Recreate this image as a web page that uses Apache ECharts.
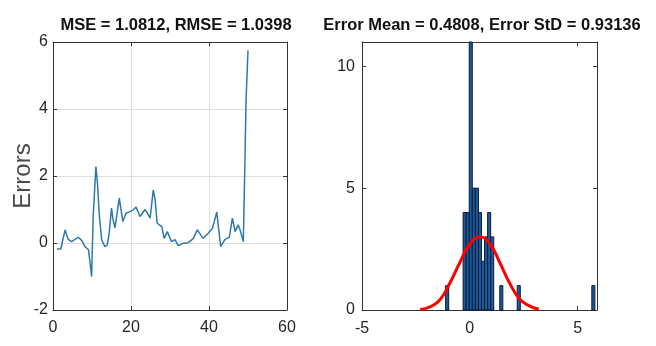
<!DOCTYPE html>
<html>
<head>
<meta charset="utf-8">
<script src="https://cdn.jsdelivr.net/npm/echarts@6/dist/echarts.min.js"></script>
<style>
html,body{margin:0;padding:0;background:#fff;}
#c{width:656px;height:346px;}
</style>
</head>
<body>
<div id="c"></div>
<script>
// Left panel: prediction errors vs sample index
const errX = [1,2,3.1,3.9,4.8,5.6,6.5,7.4,8.2,9.1,9.5,9.9,10.3,11,11.4,11.9,12.5,13.3,13.9,14.4,15,15.4,15.9,17,17.9,18.7,19.6,20.6,21.3,22.3,23.6,24.2,24.9,25.7,26.2,26.7,27.9,28.5,29.3,30.4,31.3,32.1,33.4,34.7,36,37,38.5,39.8,40.9,42,42.4,43,44.1,45.2,46,46.7,47.5,48.1,48.8,49.2,49.5,50];
const errY = [-0.18,-0.18,0.39,0.11,0.04,0.11,0.17,0.07,-0.11,-0.2,-0.6,-1.0,0.79,2.28,1.78,0.79,0.09,-0.11,-0.06,0.29,1.04,0.7,0.45,1.34,0.64,0.89,0.93,0.99,1.07,0.79,1.0,0.89,0.74,1.58,1.28,0.59,0.49,0.14,0.34,0.04,0.1,-0.08,-0.01,0.01,0.14,0.39,0.14,0.29,0.44,0.93,0.49,-0.11,0.11,0.17,0.74,0.34,0.54,0.34,0.04,2.39,4.27,5.75];

// Right panel: histogram of errors
const binWidth = 0.142;
const binLeft  = [-1.12,-0.31,-0.168,-0.026,0.116,0.258,0.40,0.542,0.684,0.826,0.968,1.39,2.20,5.66];
const binCount = [1,4,4,11,5,5,4,2,3,4,3,1,1,1];

// Right panel: fitted normal curve
const fitX = [-2.3,-1.85,-1.39,-0.93,-0.46,0,0.48,0.93,1.39,1.85,2.31,2.78,3.2];
const fitY = [0.02,0.13,0.41,1.1,1.95,2.7,3.0,2.72,1.95,1.1,0.45,0.16,0.04];

const leftXTicks = {min:0, max:60, interval:20};
const leftYTicks = {min:-2, max:6, interval:2};
const rightXTicks = {min:-5, max:5.9, interval:5};
const rightYTicks = {min:0, max:11, interval:5};

const titleLeft = 'MSE = 1.0812, RMSE = 1.0398';
const titleRight = 'Error Mean = 0.4808, Error StD = 0.93136';
const yName = 'Errors';

const FONT = "'Liberation Sans',Arial,sans-serif";
const AX = '#333333';
const LBL = '#262626';

function onMultiple(v, step){ return Math.abs(v/step - Math.round(v/step)) < 1e-6; }

function baseAxis(gi, pos, t, showLabel, split){
  return {
    type:'value', gridIndex:gi, position:pos,
    min:t.min, max:t.max, interval:t.interval,
    axisLine:{show:true, onZero:false, lineStyle:{color:AX, width:1}},
    axisTick:{show:true, inside:true, length:4, lineStyle:{color:AX}},
    splitLine:{show:split, lineStyle:{color:'#dedede', width:1}},
    axisLabel:{show:showLabel, color:LBL, fontFamily:FONT, fontSize:16,
      formatter: v => onMultiple(v, t.interval) ? String(Math.round(v)) : ''}
  };
}

const chart = echarts.init(document.getElementById('c'), null, {renderer:'canvas'});

const xl = baseAxis(0,'bottom',leftXTicks,true,true); xl.axisLabel.margin = 10;
const xlt = baseAxis(0,'top',leftXTicks,false,false);
const yl = baseAxis(0,'left',leftYTicks,true,true); yl.axisLabel.margin = 5;
yl.name = yName; yl.nameLocation = 'middle'; yl.nameGap = 18; yl.nameMoveOverlap = false;
yl.nameTextStyle = {color:'#4a4a4a', fontFamily:FONT, fontSize:24};
const ylr = baseAxis(0,'right',leftYTicks,false,false);

const xr = baseAxis(1,'bottom',rightXTicks,true,false); xr.axisLabel.margin = 11;
const xrt = baseAxis(1,'top',rightXTicks,false,false);
const yr = baseAxis(1,'left',rightYTicks,true,false); yr.axisLabel.margin = 7;
const yrr = baseAxis(1,'right',rightYTicks,false,false);

chart.setOption({
  animation:false,
  backgroundColor:'#ffffff',
  title:[
    {text:titleLeft, left:171, top:12, textAlign:'center',
     textStyle:{fontFamily:FONT, fontWeight:'bold', fontSize:16.5, color:'#111'}},
    {text:titleRight, left:477, top:12, textAlign:'center',
     textStyle:{fontFamily:FONT, fontWeight:'bold', fontSize:16.5, color:'#111'}}
  ],
  grid:[
    {left:53, top:42, width:234, height:268},
    {left:362, top:42, width:235, height:268}
  ],
  xAxis:[xl, xlt, xr, xrt],
  yAxis:[yl, ylr, yr, yrr],
  series:[
    {
      type:'line', xAxisIndex:0, yAxisIndex:0,
      data: errX.map((x,i)=>[x, errY[i]]),
      showSymbol:false, symbol:'none',
      lineStyle:{color:'#2f78ae', width:1.5}
    },
    {
      type:'custom', xAxisIndex:2, yAxisIndex:2,
      data: binLeft.map((l,i)=>[l, binCount[i]]),
      encode:{x:0, y:1},
      renderItem:function(params, api){
        const l = api.value(0), c = api.value(1);
        const p0 = api.coord([l, 0]);
        const p1 = api.coord([l + binWidth, c]);
        return {type:'rect',
          shape:{x:p0[0], y:p1[1], width:p1[0]-p0[0], height:p0[1]-p1[1]},
          style:{fill:'#1b5a9c', stroke:'#0c1c36', lineWidth:1}};
      },
      z:2
    },
    {
      type:'line', xAxisIndex:2, yAxisIndex:2,
      data: fitX.map((x,i)=>[x, fitY[i]]),
      smooth:true, showSymbol:false, symbol:'none',
      lineStyle:{color:'#ff0000', width:3},
      z:3
    }
  ]
});
</script>
</body>
</html>
